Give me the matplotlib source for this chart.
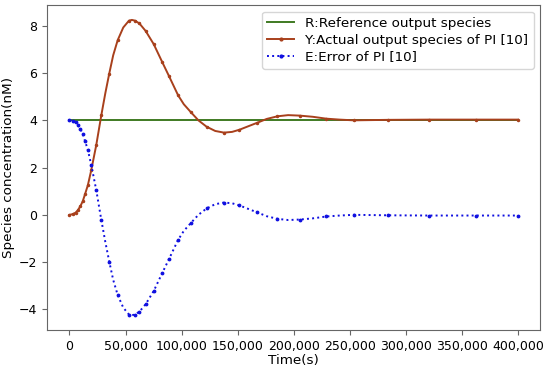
import numpy as np
import matplotlib
matplotlib.use('Agg')
import matplotlib.pyplot as plt
from matplotlib.ticker import FuncFormatter

# solver output points (drawn with markers)
t_pts = [0, 3000, 5400, 7400, 9800, 11900, 14000, 16400, 19400, 23900, 28400,
         35500, 43000, 53100, 58400, 62400, 68000, 75200, 82600, 88600, 96900,
         108000, 122300, 137800, 151500, 167100, 185500, 205200, 229100, 253500,
         284300, 320600, 362400, 400000]
y_pts = [0.00, 0.03, 0.09, 0.19, 0.37, 0.58, 0.89, 1.25, 1.88, 2.95, 4.21,
         5.98, 7.39, 8.22, 8.22, 8.10, 7.78, 7.22, 6.48, 5.89, 5.06,
         4.36, 3.73, 3.48, 3.60, 3.89, 4.17, 4.20, 4.07, 4.00,
         4.02, 4.03, 4.03, 4.03]
e_pts = [4.00, 3.97, 3.91, 3.81, 3.63, 3.42, 3.11, 2.75, 2.12, 1.05, -0.21,
         -1.98, -3.39, -4.22, -4.22, -4.10, -3.78, -3.22, -2.48, -1.89, -1.06,
         -0.36, 0.27, 0.52, 0.40, 0.11, -0.17, -0.20, -0.07, 0.00,
         -0.02, -0.03, -0.03, -0.03]

# extra points read along the curves between solver points
t_fill = [32000, 39000, 48000, 55700, 102000, 115000, 130000, 145000, 159000,
          176000, 195000, 217000, 241000]
y_fill = [5.15, 6.75, 7.93, 8.25, 4.68, 4.00, 3.55, 3.51, 3.74, 4.06, 4.22, 4.15, 4.03]
e_fill = [-1.15, -2.75, -3.93, -4.25, -0.68, 0.00, 0.45, 0.49, 0.26, -0.06, -0.22, -0.15, -0.03]

r_value = 4.0
t_range = [0, 400000]

order = np.argsort(t_pts + t_fill)
t_line = np.array(t_pts + t_fill)[order]
y_line = np.array(y_pts + y_fill)[order]
e_line = np.array(e_pts + e_fill)[order]

fig = plt.figure(figsize=(5.5, 3.69), dpi=100)
ax = fig.add_axes([0.0855, 0.106, 0.897, 0.881])

green = '#3f7a22'
brown = '#a8401c'
blue = '#1010e0'

ax.plot(t_range, [r_value, r_value], color=green, lw=1.4)
ax.plot(t_line, y_line, color=brown, lw=1.4)
ax.plot(t_pts, y_pts, ls='none', marker='.', ms=3, color=brown)
ax.plot(t_line, e_line, color=blue, lw=1.4, ls=':')
ax.plot(t_pts, e_pts, ls='none', marker='.', ms=3.5, color=blue)

# legend proxies
h1, = ax.plot([], [], color=green, lw=1.4)
h2, = ax.plot([], [], color=brown, lw=1.4, marker='.', ms=4)
h3, = ax.plot([], [], color=blue, lw=1.4, ls=':', marker='.', ms=4)
ax.legend([h1, h2, h3], ['R:Reference output species',
                         'Y:Actual output species of PI [10]',
                         'E:Error of PI [10]'], loc='upper right',
          fontsize=9.7, labelspacing=0.28, handlelength=2.0)

ax.set_xlim(-20000, 420000)
ax.set_ylim(-4.87, 8.89)
ax.set_xticks(np.arange(0, 400001, 50000))
ax.xaxis.set_major_formatter(FuncFormatter(lambda v, p: '{:,.0f}'.format(v)))
ax.set_yticks([-4, -2, 0, 2, 4, 6, 8])
ax.tick_params(labelsize=9, color='0.4')
ax.set_xlabel('Time(s)', fontsize=9.7, labelpad=1)
ax.set_ylabel('Species concentration(nM)', fontsize=9.7, labelpad=3)

for s in ax.spines.values():
    s.set_color('0.4')

plt.savefig('out.png', dpi=100)
